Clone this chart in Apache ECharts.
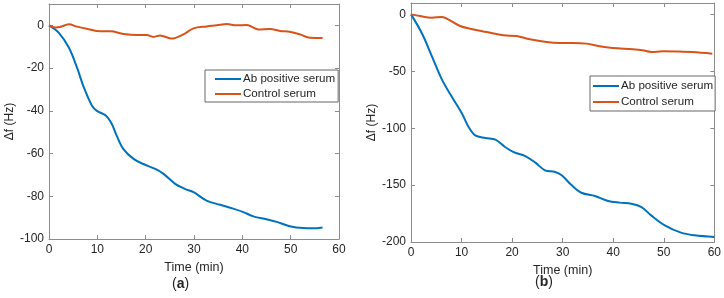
<!DOCTYPE html>
<html>
<head>
<meta charset="utf-8">
<script src="https://cdn.jsdelivr.net/npm/echarts@6/dist/echarts.min.js"></script>
<style>
  html, body { margin: 0; padding: 0; background: #fff; }
  #chart { width: 724px; height: 298px; }
</style>
</head>
<body>
<div id="chart"></div>
<script>
// panel (a)
const abTimeA = [0, 2, 4.1, 5.8, 7.2, 8.9, 9.9, 11.8, 13, 14, 15.4, 17.5, 19.5, 22, 23.7, 26.1, 28.1, 29.9, 32.6, 35.4, 38.1, 40.2, 42.3, 45, 47.1, 49.8, 52.6, 54.6, 56.6];
const abValA = [0, -3.4, -10.4, -19.8, -29, -37.6, -40, -42.3, -46.2, -51.6, -57.9, -62.5, -64.9, -67.2, -69.5, -74.2, -76.5, -78.1, -82, -84, -85.8, -87.4, -89.4, -90.8, -92, -94, -94.9, -95, -94.6];
const ctrlTimeA = [0, 1.3, 2.3, 4.1, 5.8, 7.8, 10.6, 12.7, 15.4, 18.2, 20.2, 21.6, 23, 25.4, 27.8, 29.9, 32.6, 34.7, 36.8, 38.8, 40.9, 43.3, 45.7, 47.8, 49.8, 51.9, 54, 56.6];
const ctrlValA = [0, -1, -0.8, 0.5, -0.6, -1.6, -2.8, -2.8, -4, -4.5, -4.5, -5.4, -4.7, -6.2, -4.2, -1.4, -0.5, 0, 0.6, 0, 0.2, -1.9, -1.7, -2.6, -3, -4.2, -5.8, -5.9];

// panel (b)
const abTimeB = [0, 2.2, 4.2, 6.2, 8.1, 10.1, 11.4, 12.7, 14.7, 16.7, 18.6, 20.3, 22.6, 24.6, 26.5, 28.5, 29.8, 31.8, 33.7, 36.4, 39, 41.3, 43.6, 45.6, 47.5, 50.2, 53.4, 56.1, 60];
const abValB = [0, -17, -37.5, -58, -72.6, -87.3, -99, -106.3, -108.6, -110.1, -116.5, -121, -124.5, -130.3, -137, -138.5, -141.4, -150.2, -156.7, -159.6, -164, -165.4, -166.3, -169.3, -176.6, -185.4, -191.8, -194.1, -195.6];
const ctrlTimeB = [0, 1.8, 4.1, 6.1, 7.7, 9.7, 11.7, 15, 18.3, 20.9, 23.5, 26.8, 29.4, 32, 34.7, 37.3, 39.9, 43.9, 45.8, 47.5, 49.8, 53, 55.7, 59.6];
const ctrlValB = [0, -1.5, -2.9, -2.3, -5.3, -10.2, -12.6, -15.5, -18.4, -19, -21.9, -24.3, -25.1, -25.1, -25.7, -28, -29.5, -30.7, -31.6, -33, -32.5, -32.7, -33, -34.5];

const xTicks = [0, 10, 20, 30, 40, 50, 60];
const seriesNames = ['Ab positive serum', 'Control serum'];

const pairs = (ts, vs) => ts.map((t, i) => [t, vs[i]]);

const axisColor = '#8c8c8c';
const textColor = '#262626';
const blue = '#0072BD';
const orange = '#D95319';

function xAx(grid, pos, show, gap) {
  return {
    type: 'value', gridIndex: grid, position: pos,
    min: xTicks[0], max: xTicks[xTicks.length - 1], interval: 10,
    name: show ? 'Time (min)' : '', nameLocation: 'middle', nameGap: gap,
    nameTextStyle: { fontSize: 12.5, color: textColor, fontFamily: 'Liberation Sans' },
    axisLine: { show: true, onZero: false, lineStyle: { color: axisColor, width: 1 } },
    axisTick: { show: true, inside: true, length: 4, lineStyle: { color: axisColor } },
    axisLabel: { show: show, fontSize: 12, color: textColor, margin: 5, fontFamily: 'Liberation Sans' },
    splitLine: { show: false }
  };
}

function yAx(grid, pos, show, min, step) {
  return {
    type: 'value', gridIndex: grid, position: pos,
    min: min, max: 10, interval: step,
    name: show ? 'Δf (Hz)' : '', nameLocation: 'middle', nameGap: 30,
    nameTextStyle: { fontSize: 12, color: textColor, fontFamily: 'Liberation Sans' },
    axisLine: { show: true, onZero: false, lineStyle: { color: axisColor, width: 1 } },
    axisTick: { show: true, inside: true, length: 4, lineStyle: { color: axisColor } },
    axisLabel: { show: show, showMaxLabel: false, fontSize: 12, color: textColor, margin: 5, fontFamily: 'Liberation Sans' },
    splitLine: { show: false }
  };
}

function legendAt(left, top, pad, gap) {
  return {
    orient: 'vertical', left: left, top: top,
    data: seriesNames, itemWidth: 26, itemHeight: 2, itemGap: gap,
    padding: pad, borderColor: '#666', borderWidth: 1,
    backgroundColor: '#fff', selectedMode: false,
    textStyle: { fontSize: 11.6, lineHeight: 14, color: textColor, fontFamily: 'Liberation Sans', padding: [0, 0, 0, -3] }
  };
}

function line(name, data, color, xi, yi) {
  return {
    name: name, type: 'line', data: data, xAxisIndex: xi, yAxisIndex: yi,
    smooth: 0.35, symbol: 'none', color: color,
    lineStyle: { width: 2, color: color }
  };
}

const chart = echarts.init(document.getElementById('chart'));
chart.setOption({
  animation: false,
  grid: [
    { left: 49, top: 4, width: 290, height: 235 },
    { left: 411, top: 3, width: 304, height: 239 }
  ],
  xAxis: [xAx(0, 'bottom', true, 20), xAx(0, 'top', false, 0), xAx(1, 'bottom', true, 15), xAx(1, 'top', false, 0)],
  yAxis: [yAx(0, 'left', true, -100, 20), yAx(0, 'right', false, -100, 20), yAx(1, 'left', true, -200, 50), yAx(1, 'right', false, -200, 50)],
  legend: [legendAt(205, 70, [2, 3, 1, 9], 1), legendAt(590, 76, [3, 2, 2, 2], 2)],
  series: [
    line(seriesNames[0], pairs(abTimeA, abValA), blue, 0, 0),
    line(seriesNames[1], pairs(ctrlTimeA, ctrlValA), orange, 0, 0),
    line(seriesNames[0], pairs(abTimeB, abValB), blue, 2, 2),
    line(seriesNames[1], pairs(ctrlTimeB, ctrlValB), orange, 2, 2)
  ],
  graphic: [
    { type: 'text', left: 172, top: 277, style: { text: '({b|a})', font: '14px "Liberation Sans"', fill: textColor,
      rich: { b: { fontWeight: 'bold', fontSize: 14, fontFamily: 'Liberation Sans' } } } },
    { type: 'text', left: 535, top: 275, style: { text: '({b|b})', font: '14px "Liberation Sans"', fill: textColor,
      rich: { b: { fontWeight: 'bold', fontSize: 14, fontFamily: 'Liberation Sans' } } } }
  ]
});
</script>
</body>
</html>
